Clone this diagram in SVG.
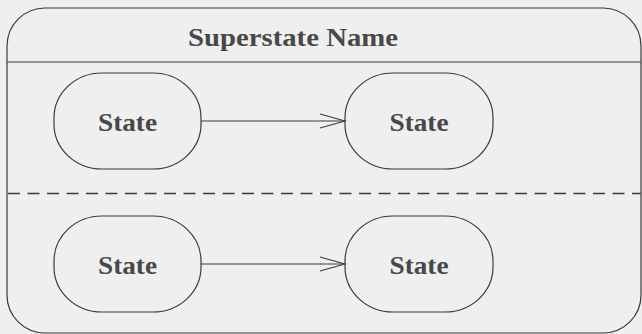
<svg xmlns="http://www.w3.org/2000/svg" width="642" height="334" viewBox="0 0 642 334">
<defs>
<style>
.ln{fill:none;stroke:#3a3a3a;stroke-width:1.2}
.st{fill:none;stroke:#3a3a3a;stroke-width:1.2}
.ds{fill:none;stroke:#3a3a3a;stroke-width:1.4;stroke-dasharray:12 7.5}
.tx{font-family:"Liberation Serif",serif;font-weight:bold;fill:#484848;text-anchor:middle}
</style>
<marker id="open" markerWidth="28" markerHeight="16" refX="26" refY="8" orient="auto" markerUnits="userSpaceOnUse">
<path d="M1,1 L26,8 L1,15" fill="none" stroke="#3a3a3a" stroke-width="1.2"/>
</marker>
</defs>
<rect width="642" height="334" fill="#efefef"/>
<g id="superstate">
<rect class="ln" x="7" y="8" width="634" height="325" rx="38" ry="38"/>
<line class="ln" x1="7" y1="62" x2="641" y2="62"/>
<line class="ds" x1="8" y1="193.5" x2="641" y2="193.5"/>
<text class="tx" x="293" y="46" font-size="26" textLength="210" lengthAdjust="spacingAndGlyphs">Superstate Name</text>
</g>
<g id="s1">
<rect class="st" x="54" y="73" width="147" height="96" rx="48" ry="45"/>
<text class="tx" x="127.5" y="131" font-size="26" textLength="59" lengthAdjust="spacingAndGlyphs">State</text>
</g>
<g id="s2">
<rect class="st" x="345" y="73" width="148" height="96" rx="48" ry="45"/>
<text class="tx" x="419" y="131" font-size="26" textLength="59" lengthAdjust="spacingAndGlyphs">State</text>
</g>
<g id="s3">
<rect class="st" x="54" y="216" width="147" height="96" rx="48" ry="45"/>
<text class="tx" x="127.5" y="274" font-size="26" textLength="59" lengthAdjust="spacingAndGlyphs">State</text>
</g>
<g id="s4">
<rect class="st" x="345" y="216" width="148" height="96" rx="48" ry="45"/>
<text class="tx" x="419" y="274" font-size="26" textLength="59" lengthAdjust="spacingAndGlyphs">State</text>
</g>
<g id="connectors">
<line class="ln" x1="201" y1="121" x2="345" y2="121" marker-end="url(#open)"/>
<line class="ln" x1="201" y1="264" x2="345" y2="264" marker-end="url(#open)"/>
</g>
</svg>
